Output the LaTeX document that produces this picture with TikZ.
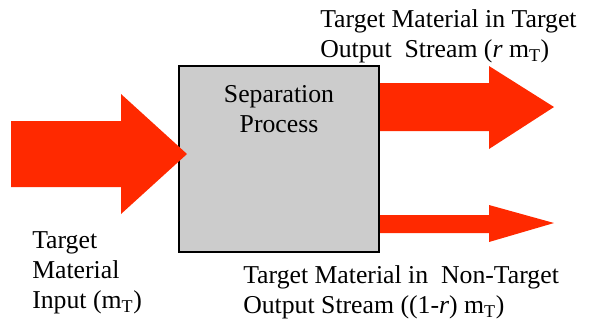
\documentclass[tikz,border=0pt]{standalone}
\usepackage{fontspec}
\setmainfont{Liberation Serif}
\usepackage{tikz}

\definecolor{streamred}{RGB}{255,41,0}
\definecolor{boxgray}{RGB}{204,204,204}

\tikzset{
  label text/.style={anchor=base west, inner sep=0pt, align=left,
    font=\fontsize{19.3}{22.5}\selectfont},
  block arrow/.style={fill=streamred, draw=none}
}

\begin{document}
\begin{tikzpicture}[x=0.75pt,y=0.75pt,yscale=-1,xscale=1]
\useasboundingbox (0,0) rectangle (591,330);

%Shape: Square (separation unit)
\draw [fill=boxgray, line width=1.2pt] (179,66) -- (379,66) -- (379,252) -- (179,252) -- cycle ;

%Shape: Left arrow (input stream), tip lies over the box edge
\path [block arrow] (11,121) -- (121,121) -- (121,94) -- (187,154) -- (121,214) -- (121,187) -- (11,187) -- cycle ;
%Shape: Top right arrow (target output)
\path [block arrow] (380,83) -- (489,83) -- (489,66) -- (554,107) -- (489,149) -- (489,131) -- (380,131) -- cycle ;
%Shape: Bottom right arrow (non-target output)
\path [block arrow] (380,215) -- (489,215) -- (489,205) -- (554,223) -- (489,242) -- (489,233) -- (380,233) -- cycle ;

% Text Node (anchored on the last line's baseline)
\node (sep) [label text, anchor=base, align=center] at (279,132) {Separation\\Process};
% Text Node
\node (feed) [label text] at (32,308) {Target\\Material\\Input (m\textsubscript{T})};
% Text Node
\node (prod) [label text] at (320,57) {Target Material in Target\\Output\ \ Stream (\textit{r} m\textsubscript{T})};
% Text Node
\node (waste) [label text] at (243,313) {Target Material in\ \ Non-Target\\Output Stream ((1-\textit{r}) m\textsubscript{T})};

\end{tikzpicture}
\end{document}
